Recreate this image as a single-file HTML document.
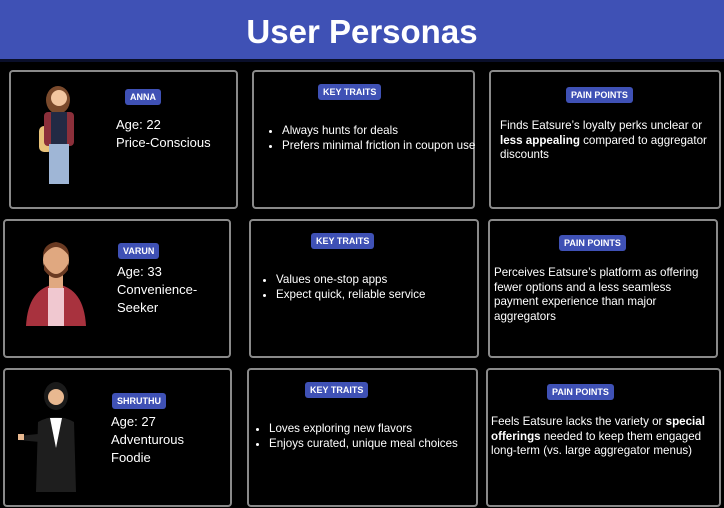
<!DOCTYPE html>
<html><head><style>
body{margin:0;width:724px;height:508px;background:#000;position:relative;overflow:hidden;font-family:"Liberation Sans",sans-serif;color:#fff}
.hdr{position:absolute;left:0;top:0;width:724px;height:59px;background:#3f51b5;border-bottom:3px solid #0a0f2a;text-align:center;font-weight:bold;font-size:33px;line-height:64px}
.b{position:absolute;border:2px solid #8a8a8a;border-radius:4px;box-sizing:border-box}
.bd{position:absolute;background:#3f51b5;color:#fff;font-weight:bold;font-size:9px;border-radius:3px;padding:3px 5px;line-height:10px}
.t{position:absolute;font-size:11.6px;line-height:14.5px}
.nm{position:absolute;font-size:13px;line-height:18px}
ul{margin:0;padding-left:14px}
svg{position:absolute}
</style></head><body>
<div class="hdr">User Personas</div>

<!-- Row 1 -->
<div class="b" style="left:9px;top:70px;width:229px;height:139px"></div>
<svg style="left:28px;top:82px" width="60" height="104" viewBox="0 0 60 104">
<ellipse cx="30" cy="18" rx="12" ry="14" fill="#7a4a2c"/><circle cx="31" cy="16" r="8" fill="#f2c6a0"/>
<rect x="11" y="44" width="14" height="26" rx="5" fill="#e8c27a"/>
<rect x="16" y="30" width="30" height="34" rx="4" fill="#8b2f3a"/><rect x="23" y="30" width="16" height="34" fill="#222a44"/>
<rect x="21" y="62" width="20" height="40" fill="#9fb6d6"/>
</svg>
<div class="bd" style="left:125px;top:89px">ANNA</div>
<div class="nm" style="left:116px;top:116px">Age: 22<br>Price-Conscious</div>

<div class="b" style="left:252px;top:70px;width:223px;height:139px"></div>
<div class="bd" style="left:318px;top:84px">KEY TRAITS</div>
<div class="t" style="left:268px;top:124px"><ul><li>Always hunts for deals</li><li>Prefers minimal friction in coupon use</li></ul></div>

<div class="b" style="left:489px;top:70px;width:232px;height:139px"></div>
<div class="bd" style="left:566px;top:87px">PAIN POINTS</div>
<div class="t" style="left:500px;top:119px;width:218px">Finds Eatsure’s loyalty perks unclear or <b>less appealing</b> compared to aggregator discounts</div>

<!-- Row 2 -->
<div class="b" style="left:3px;top:219px;width:228px;height:139px"></div>
<svg style="left:22px;top:238px" width="68" height="88" viewBox="0 0 68 88">
<path d="M4 88 Q6 50 34 46 Q62 50 64 88Z" fill="#a8323e"/><rect x="26" y="50" width="16" height="38" fill="#f0c8d0"/>
<rect x="27" y="36" width="14" height="14" fill="#e0a880"/>
<ellipse cx="34" cy="22" rx="13" ry="16" fill="#e0a880"/><path d="M21 18 Q34 0 47 18 Q47 6 34 4 Q21 6 21 18Z" fill="#6a3a22"/>
<path d="M22 26 Q34 46 46 26 L46 32 Q34 48 22 32Z" fill="#6a3a22"/>
</svg>
<div class="bd" style="left:118px;top:243px">VARUN</div>
<div class="nm" style="left:117px;top:263px">Age: 33<br>Convenience-<br>Seeker</div>

<div class="b" style="left:249px;top:219px;width:230px;height:139px"></div>
<div class="bd" style="left:311px;top:233px">KEY TRAITS</div>
<div class="t" style="left:262px;top:273px"><ul><li>Values one-stop apps</li><li>Expect quick, reliable service</li></ul></div>

<div class="b" style="left:488px;top:219px;width:230px;height:139px"></div>
<div class="bd" style="left:559px;top:235px">PAIN POINTS</div>
<div class="t" style="left:494px;top:266px;width:222px">Perceives Eatsure’s platform as offering fewer options and a less seamless payment experience than major aggregators</div>

<!-- Row 3 -->
<div class="b" style="left:3px;top:368px;width:229px;height:139px"></div>
<svg style="left:18px;top:378px" width="72" height="114" viewBox="0 0 72 114">
<ellipse cx="38" cy="18" rx="12" ry="14" fill="#1a1a1a"/><circle cx="38" cy="19" r="8" fill="#e8b890"/>
<path d="M18 114 L20 44 Q38 34 56 44 L58 114Z" fill="#1e1e1e"/><path d="M32 40 L38 70 L44 40Z" fill="#fff"/>
<path d="M20 56 L0 58 L0 62 L22 64Z" fill="#1e1e1e"/><rect x="0" y="56" width="6" height="6" fill="#e8b890"/>
</svg>
<div class="bd" style="left:112px;top:393px">SHRUTHU</div>
<div class="nm" style="left:111px;top:413px">Age: 27<br>Adventurous<br>Foodie</div>

<div class="b" style="left:247px;top:368px;width:231px;height:139px"></div>
<div class="bd" style="left:305px;top:382px">KEY TRAITS</div>
<div class="t" style="left:255px;top:422px"><ul><li>Loves exploring new flavors</li><li>Enjoys curated, unique meal choices</li></ul></div>

<div class="b" style="left:486px;top:368px;width:235px;height:139px"></div>
<div class="bd" style="left:547px;top:384px">PAIN POINTS</div>
<div class="t" style="left:491px;top:415px;width:228px">Feels Eatsure lacks the variety or <b>special offerings</b> needed to keep them engaged long-term (vs. large aggregator menus)</div>
</body></html>
